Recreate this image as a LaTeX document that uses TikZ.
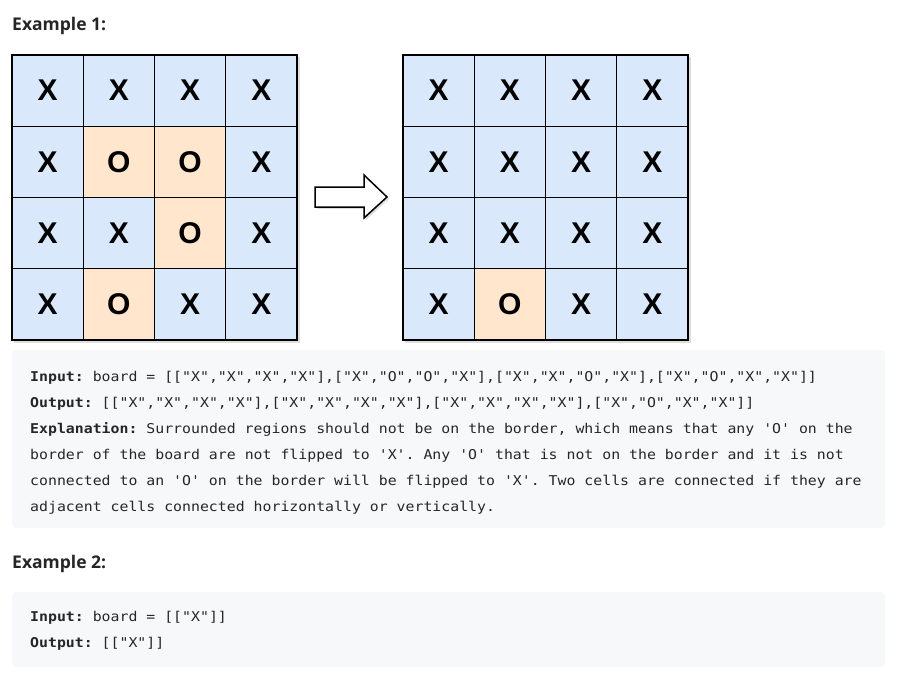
\documentclass[tikz,border=0pt]{standalone}
\usepackage{fontspec}
\setmonofont{DejaVu Sans Mono}[FakeStretch=1.1]
\newfontfamily\headfont{Open Sans}
\newfontfamily\cellfont{Liberation Sans}
\definecolor{cellblue}{HTML}{DAE8FC}
\definecolor{cellorange}{HTML}{FFE6CC}
\colorlet{fillX}{cellblue}
\colorlet{fillO}{cellorange}
\definecolor{codebg}{HTML}{F7F8FA}
\definecolor{ink}{HTML}{262626}
\tikzset{
  cell/.style={draw=black, line width=1.3pt, minimum size=71.25pt, inner sep=0pt,
    font=\cellfont\bfseries\fontsize{30}{30}\selectfont},
  heading/.style={anchor=base west, inner sep=0pt, text=ink,
    font=\headfont\bfseries\fontsize{17.5}{20}\selectfont},
  codeline/.style={anchor=base west, inner sep=0pt, text=ink,
    font=\ttfamily\fontsize{13.5}{16}\selectfont},
  codebox/.style={fill=codebg, rounded corners=4pt},
  shade/.style={fill=black, opacity=0.13},
}
\begin{document}
\begin{tikzpicture}[x=1pt, y=-1pt]
    \useasboundingbox[fill=white] (0,0) rectangle (898,685);

    % Headings
    \node (ex1) [heading] at (12,31) {Example 1:};
    \node (ex2) [heading] at (12,568) {Example 2:};

    % Boards
    \fill[shade] (14,57) rectangle (300,343);
    \fill[shade] (405,57) rectangle (691,343);
    \foreach \rowcells [count=\r] in {{X,X,X,X},{X,O,O,X},{X,X,O,X},{X,O,X,X}} {
        \foreach \v [count=\c] in \rowcells {
            \node (in-\r-\c) [cell, fill=fill\v] at ({12+(\c-0.5)*71.25}, {55+(\r-0.5)*71.25}) {\v};
        }
    }
    \foreach \rowcells [count=\r] in {{X,X,X,X},{X,X,X,X},{X,X,X,X},{X,O,X,X}} {
        \foreach \v [count=\c] in \rowcells {
            \node (out-\r-\c) [cell, fill=fill\v] at ({403+(\c-0.5)*71.25}, {55+(\r-0.5)*71.25}) {\v};
        }
    }

    % Arrow
    \fill[shade] (317,189) -- (366,189) -- (366,177) -- (389,199) -- (366,220) -- (366,209) -- (317,209) -- cycle;
    \draw[fill=white, line width=1.5pt, line join=miter] (315,187) -- (364,187) -- (364,175) -- (387,197)
        -- (364,218) -- (364,207) -- (315,207) -- cycle;

    % Code blocks
    \fill[codebox] (12,350) rectangle (885,528);
    \fill[codebox] (12,592) rectangle (885,667);

    \node (in1) [codeline] at (30,381) {\textbf{Input:} board = [["X","X","X","X"],["X","O","O","X"],["X","X","O","X"],["X","O","X","X"]]};
    \node (out1) [codeline] at (30,407) {\textbf{Output:} [["X","X","X","X"],["X","X","X","X"],["X","X","X","X"],["X","O","X","X"]]};
    \node (expl1) [codeline] at (30,433) {\textbf{Explanation:} Surrounded regions should not be on the border, which means that any 'O' on the};
    \node (expl2) [codeline] at (30,459) {border of the board are not flipped to 'X'. Any 'O' that is not on the border and it is not};
    \node (expl3) [codeline] at (30,485) {connected to an 'O' on the border will be flipped to 'X'. Two cells are connected if they are};
    \node (expl4) [codeline] at (30,511) {adjacent cells connected horizontally or vertically.};

    \node (in2) [codeline] at (30,621.5) {\textbf{Input:} board = [["X"]]};
    \node (out2) [codeline] at (30,647.5) {\textbf{Output:} [["X"]]};
\end{tikzpicture}
\end{document}
